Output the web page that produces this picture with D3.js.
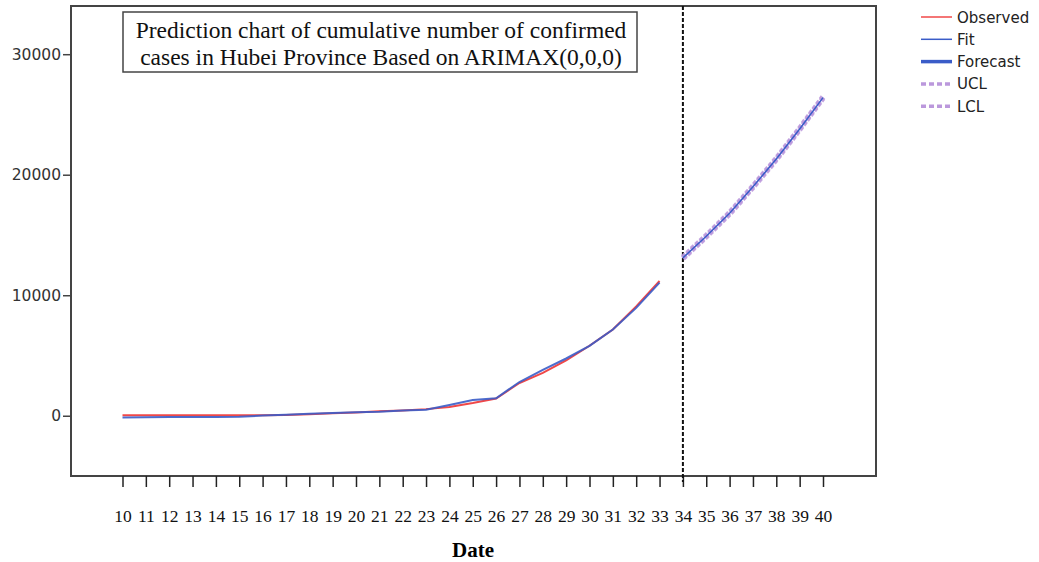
<!DOCTYPE html>
<html><head><meta charset="utf-8">
<script src="https://cdn.jsdelivr.net/npm/d3@7"></script>
<style>body{margin:0;background:#fff}svg{display:block}</style>
</head><body>
<svg id="c" width="1039" height="562"></svg>
<script>
const dates = d3.range(10, 41);
const obsDates = d3.range(10, 34);
const observed = [41,41,41,41,41,41,45,62,121,198,270,375,444,549,729,1052,1423,2714,3554,4586,5806,7153,9074,11177];
const fit = [-150,-120,-110,-100,-100,-90,20,90,170,230,280,330,430,500,900,1300,1450,2800,3800,4750,5800,7150,8950,11050];
const fcDates = d3.range(34, 41);
const forecast = [13100,14900,16800,19000,21300,23800,26400];
const ucl = [13150,14950,16850,19050,21350,23850,26450];
const lcl = [13050,14850,16750,18950,21250,23750,26350];
const yTicks = [0,10000,20000,30000];
const cutDate = 34;

const svg = d3.select("#c");
const L=71, R=876, T=6, B=476;
const x = d3.scaleLinear().domain([10,40]).range([122.5,823]);
const y = d3.scaleLinear().domain([-5000,34000]).range([B,T]);

// frame
svg.append("rect").attr("x",L).attr("y",T).attr("width",R-L).attr("height",B-T)
  .attr("fill","none").attr("stroke","#444").attr("stroke-width",2);

// y axis
const ya = svg.append("g").attr("transform",`translate(${L},0)`)
  .call(d3.axisLeft(y).tickValues(yTicks).tickSize(8).tickSizeOuter(0).tickFormat(d3.format("d")));
ya.select(".domain").remove();
ya.selectAll("line").attr("stroke","#444").attr("stroke-width",1.5);
ya.selectAll("text").attr("font-family","DejaVu Sans").attr("font-size",15.5).attr("fill","#333").attr("x",-10);

// x axis
const xa = svg.append("g").attr("transform",`translate(0,${B})`)
  .call(d3.axisBottom(x).tickValues(dates).tickSize(11).tickSizeOuter(0).tickFormat(d3.format("d")));
xa.select(".domain").remove();
xa.selectAll("line").attr("stroke","#222").attr("stroke-width",1.5);
xa.selectAll("text").attr("font-family","Liberation Serif").attr("font-size",17.5).attr("fill","#111").attr("dy",0).attr("y",46);

svg.append("text").attr("x",473).attr("y",557).attr("text-anchor","middle")
  .attr("font-family","Liberation Serif").attr("font-weight","bold").attr("font-size",21).text("Date");

// cut line
svg.append("line").attr("x1",x(cutDate)).attr("x2",x(cutDate)).attr("y1",T).attr("y2",B+6)
  .attr("stroke","#111").attr("stroke-width",2).attr("stroke-dasharray","4,2");

const line = d3.line().x(d=>x(d[0])).y(d=>y(d[1]));
svg.append("path").datum(obsDates.map((d,i)=>[d,observed[i]])).attr("d",line)
  .attr("fill","none").attr("stroke","#f04848").attr("stroke-width",2);
svg.append("path").datum(obsDates.map((d,i)=>[d,fit[i]])).attr("d",line)
  .attr("fill","none").attr("stroke","#3a5cc8").attr("stroke-width",2).attr("stroke-opacity",0.9);
[ucl,lcl].forEach(arr=>{
  svg.append("path").datum(fcDates.map((d,i)=>[d,arr[i]])).attr("d",line)
    .attr("fill","none").attr("stroke","#bb98dc").attr("stroke-width",5.5).attr("stroke-opacity",0.85)
    .attr("stroke-dasharray","4,2");
});
svg.append("path").datum(fcDates.map((d,i)=>[d,forecast[i]])).attr("d",line)
  .attr("fill","none").attr("stroke","#3a5cc8").attr("stroke-width",1.5);

// title box
svg.append("rect").attr("x",123).attr("y",12).attr("width",514).attr("height",60)
  .attr("fill","#fff").attr("stroke","#444").attr("stroke-width",1.5);
const tt = svg.append("text").attr("text-anchor","middle").attr("font-family","Liberation Serif")
  .attr("font-size",23.5).attr("fill","#111");
tt.append("tspan").attr("x",381).attr("y",38).text("Prediction chart of cumulative number of confirmed");
tt.append("tspan").attr("x",381).attr("y",65).text("cases in Hubei Province Based on ARIMAX(0,0,0)");

// legend
const leg = [
  {name:"Observed", color:"#f04848", w:1.5, dash:null},
  {name:"Fit", color:"#3a5cc8", w:1.5, dash:null},
  {name:"Forecast", color:"#3a5cc8", w:3.5, dash:null},
  {name:"UCL", color:"#bb98dc", w:3.5, dash:"5,3"},
  {name:"LCL", color:"#bb98dc", w:3.5, dash:"5,3"}
];
const lg = svg.append("g");
leg.forEach((d,i)=>{
  const cy = 17 + i*22.3;
  lg.append("line").attr("x1",921).attr("x2",952).attr("y1",cy).attr("y2",cy)
    .attr("stroke",d.color).attr("stroke-width",d.w).attr("stroke-dasharray",d.dash);
  lg.append("text").attr("x",957).attr("y",cy+5.5).attr("font-family","DejaVu Sans")
    .attr("font-size",15).attr("fill","#222").text(d.name);
});
</script>
</body></html>
